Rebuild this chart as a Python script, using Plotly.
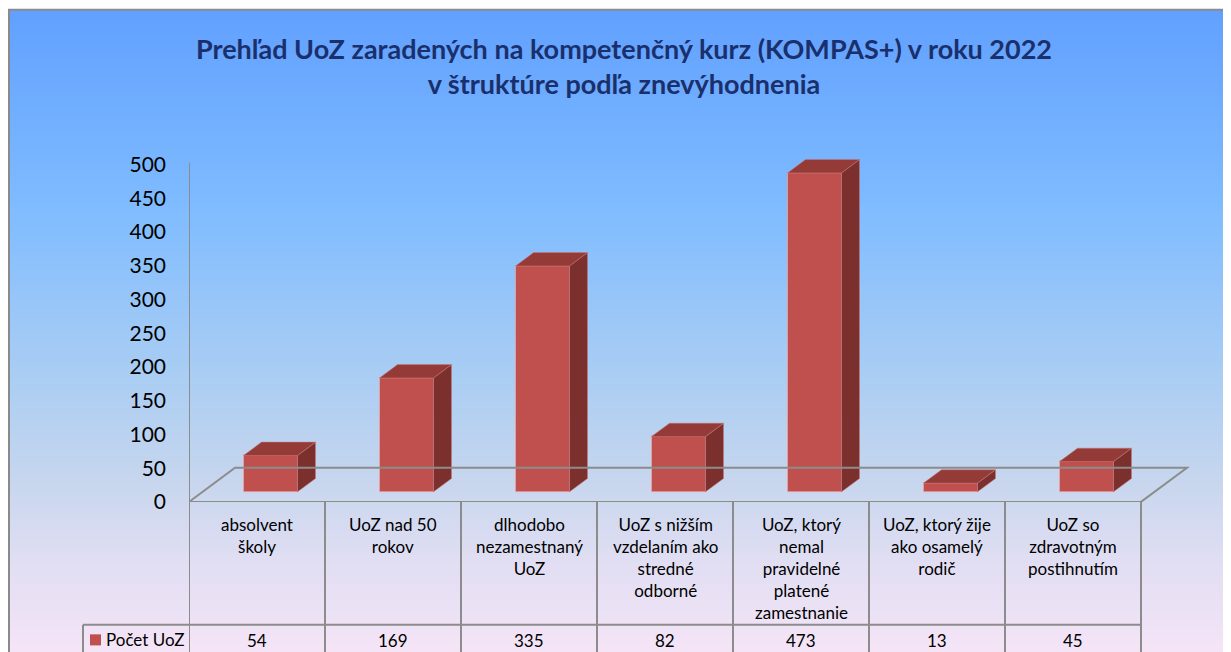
import plotly.graph_objects as go

# ---------------- data ----------------
CATEGORIES = [
    "absolvent\nškoly",
    "UoZ nad 50\nrokov",
    "dlhodobo\nnezamestnaný\nUoZ",
    "UoZ s nižším\nvzdelaním ako\nstredné\nodborné",
    "UoZ, ktorý\nnemal\npravidelné\nplatené\nzamestnanie",
    "UoZ, ktorý žije\nako osamelý\nrodič",
    "UoZ so\nzdravotným\npostihnutím",
]
VALUES = [54, 169, 335, 82, 473, 13, 45]
SERIES_NAME = "Počet UoZ"
Y_TICKS = [0, 50, 100, 150, 200, 250, 300, 350, 400, 450, 500]
TITLE_LINES = [
    "Prehľad UoZ zaradených na kompetenčný kurz (KOMPAS+) v roku 2022",
    "v štruktúre podľa znevýhodnenia",
]

# ---------------- geometry / style ----------------
PAGE_W, PAGE_H = 1231, 652
BODY_MARGIN = 8                       # default page margin around the figure
S_Y = 0.98                            # vertical squeeze of the captured page
W, H = 1231, 664
FONT = "Lato, 'Open Sans', sans-serif"
X0_PX, CAT_PX, Y0_PX = 189, 136, 500          # front-left corner of the floor (screen px)
PX_PER_UNIT = 336 / 500                        # vertical scale (screen px)
DEPTH_X_PX, DEPTH_Y_PX = 46, 34                # 3D depth offset of floor
Y_MAX = 520
X_MAX = 7.0

DX = DEPTH_X_PX / CAT_PX
DY = DEPTH_Y_PX / PX_PER_UNIT
F0, F1 = 13.5 / 46, 31.5 / 46                  # bar depth fractions (front/back)
BAR_W = 54 / CAT_PX

FRONT = "#c0504d"
TOP = "#943b38"
SIDE = "#7c302e"
GRID = "#8c8c8c"


def px(x):
    return (x - BODY_MARGIN) / W


def py(y):
    return 1 - (y / S_Y - BODY_MARGIN) / H


n = len(CATEGORIES)
xs = list(range(n))

fig = go.Figure()

# front faces of bars (real bar trace)
fig.add_trace(go.Bar(
    x=xs, y=VALUES, base=F0 * DY, width=BAR_W, offset=-BAR_W / 2 + F0 * DX,
    name=SERIES_NAME,
    marker=dict(color=FRONT, line=dict(color="rgba(240,170,170,0.7)", width=1)),
    hovertext=[c.replace("\n", " ") for c in CATEGORIES], hoverinfo="text+y",
    showlegend=False,
))

ddx, ddy = (F1 - F0) * DX, (F1 - F0) * DY
top_x, top_y, side_x, side_y = [], [], [], []
for i, v in zip(xs, VALUES):
    xl = i - BAR_W / 2 + F0 * DX
    xr = xl + BAR_W
    yb = F0 * DY
    yt = yb + v
    top_x += [xl, xr, xr + ddx, xl + ddx, xl, None]
    top_y += [yt, yt, yt + ddy, yt + ddy, yt, None]
    side_x += [xr, xr, xr + ddx, xr + ddx, xr, None]
    side_y += [yb, yt, yt + ddy, yb + ddy, yb, None]

fig.add_trace(go.Scatter(x=side_x, y=side_y, fill="toself", fillcolor=SIDE, mode="lines",
                         line=dict(color="rgba(200,120,120,0.5)", width=1),
                         hoverinfo="skip", showlegend=False))
fig.add_trace(go.Scatter(x=top_x, y=top_y, fill="toself", fillcolor=TOP, mode="lines",
                         line=dict(color="rgba(200,120,120,0.5)", width=1),
                         hoverinfo="skip", showlegend=False))

shapes = []
# background gradient (stripes), screen coordinates
stops = [(9, (97, 160, 255)), (210, (128, 188, 255)), (360, (166, 204, 244)),
         (480, (199, 214, 238)), (560, (225, 222, 243)), (660, (247, 229, 247))]


def col_at(y):
    for (ya, ca), (yb, cb) in zip(stops[:-1], stops[1:]):
        if ya <= y <= yb:
            t = (y - ya) / (yb - ya)
            return tuple(round(a + (b - a) * t) for a, b in zip(ca, cb))
    return stops[-1][1]


step = 4
y = 9
while y < PAGE_H + 10:
    c = col_at(y + step / 2)
    shapes.append(dict(type="rect", xref="paper", yref="paper", layer="below",
                       x0=px(8), x1=px(PAGE_W + 10), y0=py(y), y1=py(y + step + 1),
                       fillcolor="rgb(%d,%d,%d)" % c, line=dict(width=0)))
    y += step

# frame
shapes.append(dict(type="rect", xref="paper", yref="paper", x0=px(9), y0=py(PAGE_H + 30),
                   x1=px(PAGE_W + 20), y1=py(9.5), line=dict(color="#8a8a8a", width=2)))

# floor
floor_path = "M %f,0 L %f,%f L %f,%f L %f,0 Z" % (
    -0.5, -0.5 + DX, DY, n - 0.5 + DX, DY, n - 0.5)
shapes.append(dict(type="path", xref="x", yref="y", path=floor_path,
                   line=dict(color=GRID, width=2)))
# vertical axis line (continues into table)
shapes.append(dict(type="line", xref="x", yref="paper", x0=-0.5, x1=-0.5,
                   y0=py(PAGE_H + 20), y1=py(162), line=dict(color=GRID, width=2)))
# table column lines
for i in range(1, n + 1):
    shapes.append(dict(type="line", xref="x", yref="paper", x0=i - 0.5, x1=i - 0.5,
                       y0=py(Y0_PX), y1=py(PAGE_H + 20), line=dict(color=GRID, width=2)))
# table horizontal line and legend cell
shapes.append(dict(type="line", xref="paper", yref="paper", x0=px(83), x1=px(X0_PX + n * CAT_PX),
                   y0=py(622.5), y1=py(622.5), line=dict(color=GRID, width=2)))
shapes.append(dict(type="line", xref="paper", yref="paper", x0=px(83), x1=px(83),
                   y0=py(622.5), y1=py(PAGE_H + 20), line=dict(color=GRID, width=2)))
shapes.append(dict(type="rect", xref="paper", yref="paper", x0=px(90), x1=px(101),
                   y0=py(643), y1=py(632), fillcolor=FRONT, line=dict(width=0)))

annotations = []
for i, (c, v) in enumerate(zip(CATEGORIES, VALUES)):
    annotations.append(dict(x=i, xref="x", y=py(510), yref="paper", yanchor="top",
                            xanchor="center", align="center", showarrow=False,
                            text=c.replace("\n", "<br>"),
                            font=dict(family=FONT, size=17, color="black")))
    annotations.append(dict(x=i, xref="x", y=py(638), yref="paper", yanchor="middle",
                            xanchor="center", showarrow=False, text=str(v),
                            font=dict(family=FONT, size=17, color="black")))
annotations.append(dict(x=px(104), xref="paper", y=py(637), yref="paper", xanchor="left",
                        yanchor="middle", showarrow=False, text=SERIES_NAME,
                        font=dict(family=FONT, size=17, color="black")))

fig.update_layout(
    width=W, height=H,
    margin=dict(l=0, r=0, t=0, b=0),
    paper_bgcolor="white", plot_bgcolor="rgba(0,0,0,0)",
    title=dict(text="<b>" + "</b><br><b>".join(TITLE_LINES) + "</b>",
               x=px(624), xanchor="center", y=py(57.5), yanchor="middle",
               font=dict(family=FONT, size=27, color="#1a306c")),
    xaxis=dict(range=[-0.5, X_MAX], domain=[px(X0_PX), px(X0_PX + (X_MAX + 0.5) * CAT_PX)],
               visible=False, fixedrange=True),
    yaxis=dict(range=[0, Y_MAX], domain=[py(Y0_PX), py(Y0_PX - Y_MAX * PX_PER_UNIT)],
               tickvals=Y_TICKS, showgrid=False, zeroline=False, showline=False,
               ticks="", ticklabelstandoff=22, fixedrange=True,
               tickfont=dict(family=FONT, size=21, color="black")),
    shapes=shapes, annotations=annotations,
    showlegend=False, bargap=0,
)

fig.write_html("out.html")
